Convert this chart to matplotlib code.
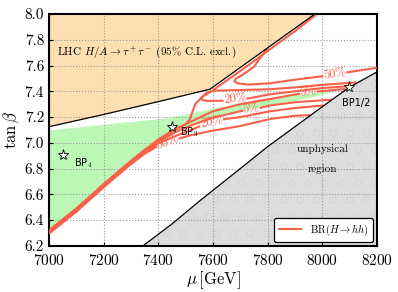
import numpy as np
import matplotlib
matplotlib.use("Agg")
import matplotlib.pyplot as plt
from matplotlib.lines import Line2D

plt.rcParams["font.family"] = "serif"
plt.rcParams["font.serif"] = ["cmr10"]
plt.rcParams["mathtext.fontset"] = "cm"
plt.rcParams["axes.formatter.use_mathtext"] = True
plt.rcParams["hatch.linewidth"] = 0.5

nan = np.nan
RED = "#f9604a"

# LHC H/A -> tau tau exclusion boundary
lhc_mu = [7000, 7200, 7400, 7589, 7800, 7973]
lhc_tb = [7.125, 7.22, 7.32, 7.416, 7.737, 8.0]

# unphysical region boundary
unph_mu = [7344, 7450, 7552, 7700, 7800, 8000, 8098, 8200]
unph_tb = [6.2, 6.37, 6.55, 6.80, 6.97, 7.28, 7.43, 7.55]

# green allowed strip
green_mu = [7000, 7200, 7435, 7600, 7700, 7809, 7950, 8085,
            7950, 7809, 7700, 7600, 7520, 7460, 7400, 7300, 7200, 7100, 7000]
green_tb = [7.095, 7.14, 7.19, 7.265, 7.30, 7.34, 7.38, 7.418,
            7.345, 7.29, 7.245, 7.195, 7.135, 7.08, 7.005, 6.845, 6.665, 6.475, 6.305]

# BR(H -> hh) contour lines (nan = gap for inline label)
edge_mu = [7000, 7100, 7200, 7300, 7350, 7400, 7455, 7500, 7515, 7525, 7535, 7560, 7598,
           7705, 7805, 7905, 7978]
edge_tb = [6.32, 6.49, 6.68, 6.86, 6.945, 7.025, 7.10, 7.145, 7.18, 7.24, 7.30, 7.355, 7.405,
           7.565, 7.72, 7.875, 7.995]

c5u_mu = [7000, 7100, 7200, 7300, 7350, 7400, 7460, 7520, 7600, 7700, 7809, 7900, 7919,
          nan, 7979, 8000, 8085]
c5u_tb = [6.315, 6.485, 6.675, 6.855, 6.94, 7.02, 7.10, 7.165, 7.245, 7.30, 7.34, 7.375, 7.381,
          nan, 7.398, 7.402, 7.418]

c5l_mu = [7000, 7100, 7200, 7300, 7350, 7400, 7460, 7520, 7600, 7700, 7711, nan, 7771, 7809,
          7900, 8035]
c5l_tb = [6.305, 6.475, 6.665, 6.845, 6.93, 7.005, 7.08, 7.135, 7.195, 7.245, 7.249, nan, 7.27,
          7.29, 7.315, 7.335]

c20l_mu = [7000, 7100, 7200, 7300, 7350, 7400, 7460, 7520, 7553, nan, 7637, 7700, 7809, 7900, 8005]
c20l_tb = [6.30, 6.47, 6.66, 6.84, 6.925, 6.995, 7.05, 7.10, 7.13, nan, 7.182, 7.20, 7.245, 7.27, 7.29]

c50l_mu = [7000, 7100, 7200, 7300, 7350, 7396, nan, 7474, 7520, 7600, 7700, 7809, 7900, 7955]
c50l_tb = [6.295, 6.465, 6.655, 6.835, 6.915, 6.972, nan, 7.032, 7.06, 7.095, 7.13, 7.185, 7.21, 7.215]

c20loop_mu = [8125, 8100, 8000, 7900, 7809, 7700, 7600, 7575, 7555, 7565, 7580, 7639,
              nan, 7723, 7809, 7900, 8000, 8100]
c20loop_tb = [7.47, 7.465, 7.45, 7.43, 7.416, 7.41, 7.405, 7.385, 7.345, 7.33, 7.325, 7.327,
              nan, 7.342, 7.377, 7.40, 7.425, 7.44]

c50loop_mu = [7800, 7780, 7750, 7710, 7685, 7678, 7690, 7730, 7809, 7900, 8004, nan, 8088, 8200]
c50loop_tb = [7.73, 7.68, 7.59, 7.53, 7.50, 7.48, 7.462, 7.452, 7.462, 7.49, 7.518, nan, 7.546, 7.583]

# contour labels
lab_text = ["50%", "20%", "5%", "5%", "20%", "50%"]
lab_mu = [8046, 7681, 7949, 7741, 7595, 7435]
lab_tb = [7.530, 7.335, 7.390, 7.258, 7.158, 7.002]
lab_rot = [9, 5, 8, 8, 10, 22]

# benchmark points
bp_name = ["BP1/2", "BP$_\\mathsf{3}$", "BP$_\\mathsf{4}$"]
bp_mu = [8098, 7449, 7050]
bp_tb = [7.43, 7.126, 6.906]
bp_lab_mu = [8072, 7478, 7093]
bp_lab_tb = [7.31, 7.08, 6.84]


fig = plt.figure(figsize=(3.98, 2.92), dpi=100)
ax = fig.add_axes([0.123, 0.158, 0.824, 0.794])

ax.fill_between(lhc_mu, lhc_tb, 8.0, color="#fddfb1", lw=0)
ax.fill_between(unph_mu, 6.2, unph_tb, facecolor="#dddddd", edgecolor="#d5d5d5",
                hatch="o", lw=0)
ax.fill(green_mu, green_tb, color="#bcf7b6", lw=0)

for mu, tb in [(edge_mu, edge_tb), (c5u_mu, c5u_tb), (c5l_mu, c5l_tb),
               (c20l_mu, c20l_tb), (c50l_mu, c50l_tb),
               (c20loop_mu, c20loop_tb), (c50loop_mu, c50loop_tb)]:
    ax.plot(mu, tb, color=RED, lw=1.5, zorder=3, solid_capstyle="butt")

ax.plot(lhc_mu, lhc_tb, color="black", lw=0.9, zorder=4)
ax.plot(unph_mu, unph_tb, color="black", lw=0.9, zorder=4)

for t, m, b, r in zip(lab_text, lab_mu, lab_tb, lab_rot):
    ax.text(m, b, t, color=RED, fontsize=9, rotation=r, ha="center", va="center",
            rotation_mode="anchor", zorder=5)

ax.plot(bp_mu, bp_tb, ls="none", marker="*", ms=8, mfc="white", mec="black", mew=0.6, zorder=6)
for n, m, b in zip(bp_name, bp_lab_mu, bp_lab_tb):
    ax.text(m, b, n, fontsize=7, family="DejaVu Sans", va="center", ha="left", zorder=6)

ax.text(7030, 7.70, r"LHC $H/A \to \tau^+\tau^-$ (95% C.L. excl.)", fontsize=8, va="center")
ax.text(8000, 6.95, "unphysical", fontsize=8, ha="center", va="center")
ax.text(8000, 6.80, "region", fontsize=8, ha="center", va="center")

ax.set_xlim(7000, 8200)
ax.set_ylim(6.2, 8.0)
ax.set_xticks(np.arange(7000, 8201, 200))
ax.set_yticks(np.arange(6.2, 8.01, 0.2))
ax.yaxis.set_major_formatter(matplotlib.ticker.FormatStrFormatter("%.1f"))
ax.grid(True, ls=":", color="#999999", lw=0.8)
ax.tick_params(labelsize=11, direction="in", length=3)
ax.tick_params(axis="x", pad=5)
for s in ax.spines.values():
    s.set_linewidth(1.5)

ax.set_xlabel(r"$\mu\,[\mathrm{GeV}]$", fontsize=12, labelpad=1)
ax.set_ylabel(r"$\tan\beta$", fontsize=12, labelpad=2)

handle = Line2D([], [], color=RED, lw=1.5)
leg = ax.legend([handle], [r"BR$(H\to hh)$"], loc="lower right", fontsize=7.5,
                fancybox=True, framealpha=1, edgecolor="black", borderaxespad=0.4,
                handlelength=2.2)
leg.get_frame().set_linewidth(0.9)

fig.savefig("out.png", dpi=100)
